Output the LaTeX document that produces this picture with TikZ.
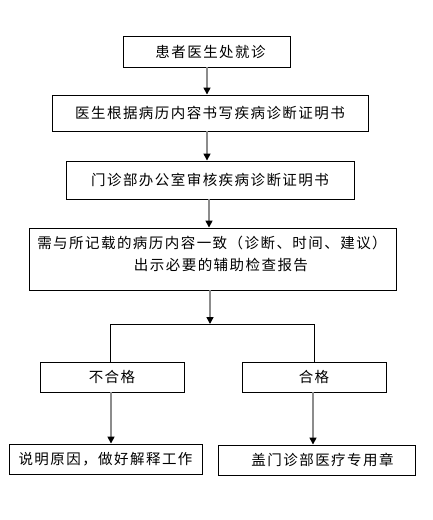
\documentclass[tikz,border=0pt]{standalone}
\usepackage{fontspec}
\setmainfont{Noto Sans CJK SC}[LetterSpace=10]
\usetikzlibrary{arrows.meta}
\tikzset{
  box/.style={draw=black, line width=0.9pt, rectangle, inner sep=0pt, font=\fontsize{14.5}{22}\selectfont, align=center},
  arr/.style={draw=gray!90!white, line width=1.5pt, -{Triangle[width=7pt,length=7pt,color=black]}},
  ln/.style={draw=black, line width=0.9pt}
}
\begin{document}
\begin{tikzpicture}[x=1pt,y=-1pt]
\useasboundingbox[fill=white] (0,0) rectangle (432,520);
\node[box, minimum width=167pt, minimum height=31pt] (b1) at (206.5,51.5) {\hspace*{8pt}患者医生处就诊};
\node[box, minimum width=316pt, minimum height=36pt] (b2) at (210,113) {医生根据病历内容书写疾病诊断证明书};
\node[box, minimum width=288pt, minimum height=38pt] (b3) at (210,180) {门诊部办公室审核疾病诊断证明书};
\node[box, minimum width=367pt, minimum height=62pt] (b4) at (212.5,259) {};
\node[font=\fontsize{14.5}{22}\selectfont, align=center, inner sep=0pt] (b4t) at (212,254) {需与所记载的病历内容一致（诊断、时间、建议）\\\hspace*{18pt}出示必要的辅助检查报告};
\node[box, minimum width=144pt, minimum height=30pt] (b5) at (112,377) {不合格};
\node[box, minimum width=144pt, minimum height=30pt] (b6) at (314,377) {合格};
\node[box, minimum width=193pt, minimum height=30pt] (b7) at (105.5,459) {说明原因，做好解释工作};
\node[box, minimum width=197pt, minimum height=30pt] (b8) at (316.5,460) {\hspace*{12pt}盖门诊部医疗专用章};
\coordinate (bl) at (110,324);
\coordinate (br) at (314,324);
\draw[arr] (207,0 |- b1.south) -- (207,0 |- b2.north);
\draw[arr] (207,0 |- b2.south) -- (207,0 |- b3.north);
\draw[arr] (209,0 |- b3.south) -- (209,0 |- b4.north);
\draw[arr] (210,0 |- b4.south) -- (210,0 |- bl);
\draw[ln] (bl) -- (br);
\draw[ln] (bl) -- (bl |- b5.north);
\draw[ln] (br) -- (br |- b6.north);
\draw[arr] (111,0 |- b5.south) -- (111,0 |- b7.north);
\draw[arr] (313,0 |- b6.south) -- (313,0 |- b8.north);
\end{tikzpicture}
\end{document}
